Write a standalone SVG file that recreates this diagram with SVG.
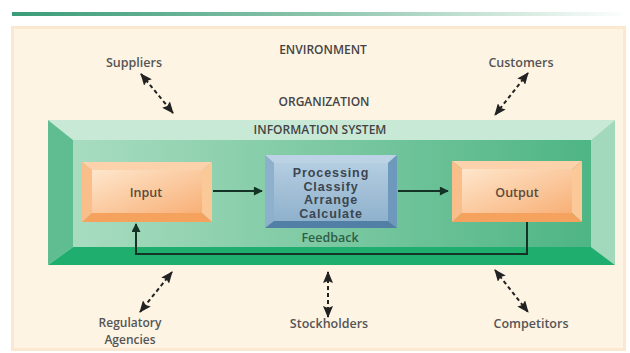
<svg xmlns="http://www.w3.org/2000/svg" width="630" height="353" viewBox="0 0 630 353">
  <style>
    .lbl { font-family: "Open Sans", "Liberation Sans", sans-serif; font-weight: 600; font-size: 12.5px; fill: #555; text-anchor: middle; }
    .lbl2 { font-family: "Open Sans", "Liberation Sans", sans-serif; font-weight: 600; font-size: 12px; fill: #555; text-anchor: middle; }
    .hdr { font-family: "Open Sans", "Liberation Sans", sans-serif; font-weight: 600; font-size: 12px; fill: #444; text-anchor: middle; }
    .box { font-family: "Open Sans", "Liberation Sans", sans-serif; font-weight: 600; font-size: 12.5px; fill: #5a4a3c; text-anchor: middle; }
    .proc { font-family: "Liberation Sans", Arial, sans-serif; font-weight: bold; font-size: 12.5px; letter-spacing: 0.9px; fill: #3c4650; text-anchor: middle; }
    .fb { font-family: "Open Sans", "Liberation Sans", sans-serif; font-weight: 600; font-size: 12.5px; fill: #2f5e48; text-anchor: middle; }
    .dash { fill: none; stroke: #222; stroke-width: 2; stroke-dasharray: 4 3; marker-start: url(#ah); marker-end: url(#ah); }
    .flow { fill: none; stroke: #143326; stroke-width: 2; }
  </style>
  <defs>
    <linearGradient id="topline" x1="0" y1="0" x2="1" y2="0">
      <stop offset="0" stop-color="#3a9c78"/>
      <stop offset="0.5" stop-color="#8cc4ac"/>
      <stop offset="1" stop-color="#ffffff"/>
    </linearGradient>
    <linearGradient id="greenface" x1="0" y1="0" x2="1" y2="0">
      <stop offset="0" stop-color="#a8dcc0"/>
      <stop offset="1" stop-color="#4eb584"/>
    </linearGradient>
    <linearGradient id="orangeface" x1="0" y1="0" x2="1" y2="1">
      <stop offset="0" stop-color="#fee6cc"/>
      <stop offset="1" stop-color="#f8b077"/>
    </linearGradient>
    <linearGradient id="blueface" x1="0" y1="0" x2="0" y2="1">
      <stop offset="0" stop-color="#b4cde1"/>
      <stop offset="1" stop-color="#8fb1cc"/>
    </linearGradient>
    <marker id="ah" viewBox="0 0 12 10" refX="11" refY="5" markerWidth="6" markerHeight="5" orient="auto-start-reverse" markerUnits="strokeWidth">
      <path d="M0,0 L12,5 L0,10 L2,5 Z" fill="#222"/>
    </marker>
    <marker id="fa" viewBox="0 0 10 10" refX="9" refY="5" markerWidth="5" markerHeight="4.5" orient="auto" markerUnits="strokeWidth">
      <path d="M0,0 L10,5 L0,10 Z" fill="#143326"/>
    </marker>
  </defs>

  <rect x="0" y="0" width="630" height="353" fill="#ffffff"/>
  <rect x="12" y="12" width="618" height="4" fill="url(#topline)"/>
  <rect x="12.5" y="27.5" width="612" height="322" fill="#fdf4e4" stroke="#fae8d0" stroke-width="3"/>

  <g id="environment"><text class="hdr" x="323" y="54">ENVIRONMENT</text></g>
  <g id="organization"><text class="hdr" x="324" y="106">ORGANIZATION</text></g>

  <g id="information-system">
    <rect x="73" y="140" width="518" height="107" fill="url(#greenface)"/>
    <polygon points="48,120 615,120 591,140 73,140" fill="#c9e9d7"/>
    <polygon points="48,120 73,140 73,247 48,265" fill="#5fbd91"/>
    <polygon points="615,120 615,265 591,247 591,140" fill="#a2d9bc"/>
    <polygon points="48,265 73,247 591,247 615,265" fill="#1fae6e"/>
    <text class="hdr" x="320" y="134">INFORMATION SYSTEM</text>
  </g>

  <g id="input">
    <polygon points="82,162 212,162 202,170 92,170" fill="#fcd2ac"/>
    <polygon points="82,162 92,170 92,213 82,222" fill="#f9be8a"/>
    <polygon points="212,162 212,222 202,213 202,170" fill="#fbc898"/>
    <polygon points="82,222 92,213 202,213 212,222" fill="#f5a25f"/>
    <rect x="92" y="170" width="110" height="43" fill="url(#orangeface)"/>
    <text class="box" x="146" y="197">Input</text>
  </g>

  <g id="processing">
    <polygon points="265,155 397,155 388,163 274,163" fill="#bcd3e5"/>
    <polygon points="265,155 274,163 274,221 265,228" fill="#8db0cc"/>
    <polygon points="397,155 397,228 388,221 388,163" fill="#6f99bc"/>
    <polygon points="265,228 274,221 388,221 397,228" fill="#517fa6"/>
    <rect x="274" y="163" width="114" height="58" fill="url(#blueface)"/>
    <text class="proc" x="331" y="177"><tspan x="331" y="177">Processing</tspan><tspan x="331" y="190.5">Classify</tspan><tspan x="331" y="204">Arrange</tspan><tspan x="331" y="217.5">Calculate</tspan></text>
  </g>

  <g id="output">
    <polygon points="452,161 582,161 572,169 462,169" fill="#fcd2ac"/>
    <polygon points="452,161 462,169 462,213 452,222" fill="#f9be8a"/>
    <polygon points="582,161 582,222 572,213 572,169" fill="#fbc898"/>
    <polygon points="452,222 462,213 572,213 582,222" fill="#f5a25f"/>
    <rect x="462" y="169" width="110" height="44" fill="url(#orangeface)"/>
    <text class="box" x="517" y="197">Output</text>
  </g>

  <g id="feedback-label"><text class="fb" x="330" y="242">Feedback</text></g>

  <g id="suppliers"><text class="lbl" x="134" y="67">Suppliers</text></g>
  <g id="customers"><text class="lbl" x="521" y="67">Customers</text></g>
  <g id="regulatory-agencies"><text class="lbl2" x="130" y="327"><tspan x="130" y="327">Regulatory</tspan><tspan x="130" y="343.5">Agencies</tspan></text></g>
  <g id="stockholders"><text class="lbl" x="329" y="328">Stockholders</text></g>
  <g id="competitors"><text class="lbl" x="531" y="328">Competitors</text></g>

  <g id="connectors">
    <line class="flow" x1="213" y1="191" x2="262" y2="191" marker-end="url(#fa)"/>
    <line class="flow" x1="398" y1="191" x2="448" y2="191" marker-end="url(#fa)"/>
    <polyline class="flow" points="527,222 527,254 136,254 136,224" marker-end="url(#fa)"/>
    <line class="dash" x1="141" y1="74" x2="173" y2="113"/>
    <line class="dash" x1="528" y1="73" x2="495" y2="115"/>
    <line class="dash" x1="172" y1="272" x2="140" y2="312"/>
    <line class="dash" x1="328" y1="272" x2="328" y2="317"/>
    <line class="dash" x1="495" y1="270" x2="528" y2="312"/>
  </g>
</svg>
